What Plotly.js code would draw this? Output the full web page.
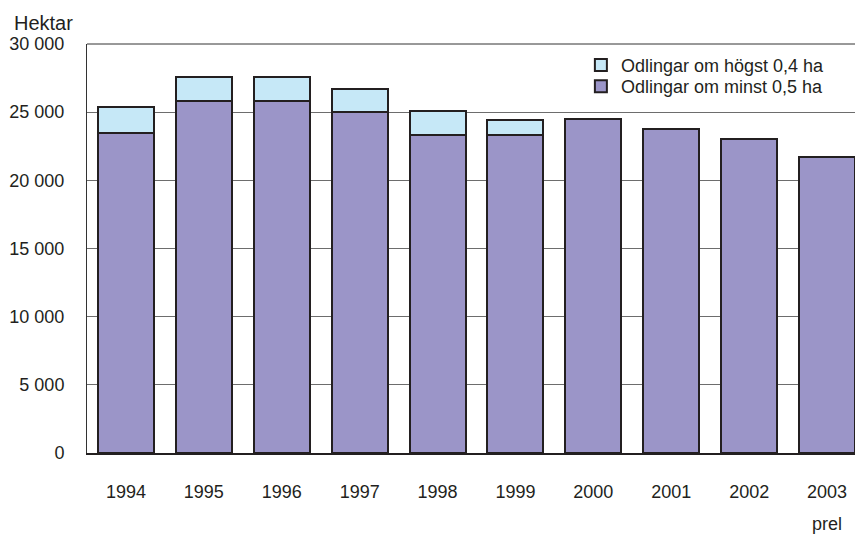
<!DOCTYPE html>
<html>
<head>
<meta charset="utf-8">
<script src="https://cdn.plot.ly/plotly-3.0.1.min.js"></script>
<style>
html,body{margin:0;padding:0;overflow:hidden;background:#fff;width:855px;height:536px;}
#chart{width:868px;height:536px;}
</style>
</head>
<body>
<div id="chart"></div>
<script>
const years = ["1994","1995","1996","1997","1998","1999","2000","2001","2002","2003"];
const minst05 = [23500, 25800, 25800, 25000, 23300, 23300, 24500, 23800, 23000, 21700];
const hogst04 = [1900, 1800, 1800, 1700, 1800, 1100, null, null, null, null];
const seriesNames = ["Odlingar om minst 0,5 ha", "Odlingar om högst 0,4 ha"];
const yTicks = [0, 5000, 10000, 15000, 20000, 25000, 30000];
const unitLabel = "Hektar";
const prelLabel = "prel";

const ink = "#231f20";
const regular = "Liberation Sans, Arial, Helvetica, sans-serif";
const tickFont = {family: regular, size: 18, color: ink};
const legFont = {family: regular, size: 18, color: ink};

const traces = [
  {type: "bar", x: years, y: minst05, name: seriesNames[0], legend: "legend2",
   marker: {color: "#9b95c8", line: {color: ink, width: 2}}, hoverinfo: "skip"},
  {type: "bar", x: years, y: hogst04, name: seriesNames[1], legend: "legend",
   marker: {color: "#c6e8f7", line: {color: ink, width: 2}}, hoverinfo: "skip"}
];

const legBase = {x: 0.634, xanchor: "left", yanchor: "middle", font: legFont,
                 bgcolor: "rgba(0,0,0,0)", itemwidth: 30};

const layout = {
  width: 868, height: 536, autosize: false,
  margin: {l: 87, r: 2, t: 44, b: 83},
  paper_bgcolor: "#fff", plot_bgcolor: "#fff",
  font: {family: regular, size: 18, color: ink},
  separators: ", ",
  barmode: "stack",
  bargap: 0.28,
  showlegend: true,
  legend: Object.assign({}, legBase, {y: 0.948}),
  legend2: Object.assign({}, legBase, {y: 0.896}),
  xaxis: {type: "category", categoryarray: years, range: [-0.5, years.length - 0.5],
          showgrid: false, showline: true, linecolor: ink, linewidth: 2,
          ticks: "", ticklabelstandoff: 21, tickfont: tickFont, fixedrange: true},
  yaxis: {range: [0, 30000], tickvals: yTicks, tickformat: ",d",
          showgrid: true, gridcolor: "#6d6d6d", gridwidth: 1,
          showline: true, linecolor: "#333", linewidth: 1, zeroline: false,
          ticks: "", ticklabelstandoff: 18, tickfont: tickFont, fixedrange: true},
  shapes: [{type: "line", xref: "paper", yref: "paper", x0: 0, x1: 1, y0: 1, y1: 1,
            line: {color: "#333", width: 1}}],
  annotations: [
    {text: unitLabel, xref: "paper", yref: "paper", x: -0.0963, y: 1.052,
     xanchor: "left", yanchor: "middle", showarrow: false,
     font: {family: regular, size: 20, color: ink}},
    {text: prelLabel, xref: "x", yref: "paper", x: years.length - 1, y: -0.1736,
     xanchor: "center", yanchor: "middle", showarrow: false, font: tickFont}
  ]
};

Plotly.newPlot("chart", traces, layout, {displayModeBar: false, staticPlot: true});
</script>
</body>
</html>
